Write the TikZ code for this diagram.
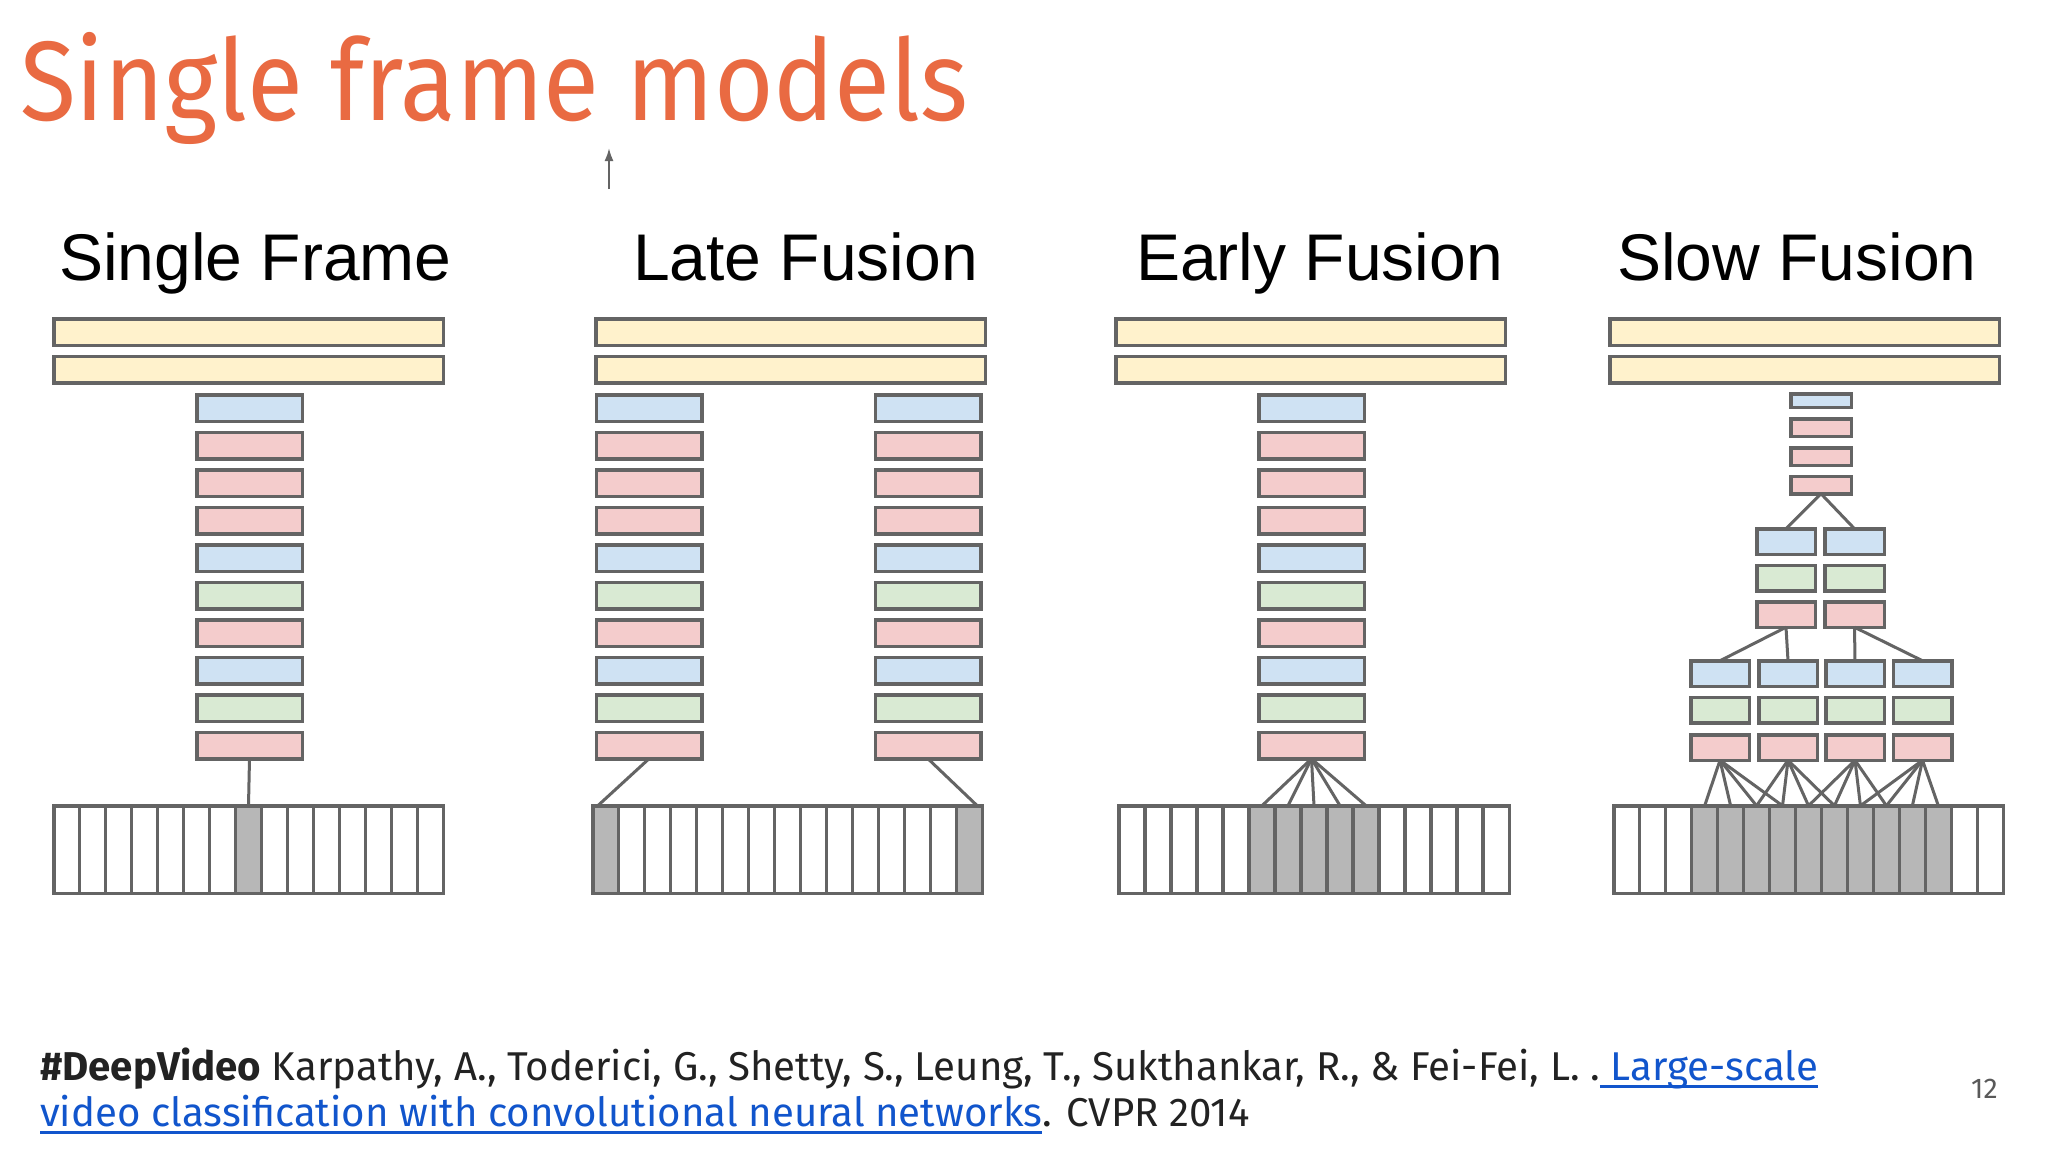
\documentclass[tikz,border=0pt]{standalone}
\usepackage{fontspec}
\setmainfont{Liberation Sans}
\newfontfamily\titlefont{Fira Sans}
\newfontfamily\footfont{Fira Sans}
\newfontfamily\headfont{Liberation Sans}
\usetikzlibrary{arrows.meta,calc}
\definecolor{edgec}{RGB}{100,100,100}
\definecolor{yel}{RGB}{255,242,204}
\definecolor{blu}{RGB}{207,226,243}
\definecolor{pnk}{RGB}{244,204,204}
\definecolor{grn}{RGB}{217,234,211}
\definecolor{gry}{RGB}{183,183,183}
\definecolor{titlec}{RGB}{233,106,66}
\definecolor{linkc}{RGB}{17,85,204}
\definecolor{txtc}{RGB}{34,34,34}
\definecolor{numc}{RGB}{89,89,89}
\newcommand\linkul[1]{\setbox0\hbox{#1}\rlap{\color{linkc}\rule[-0.2em]{\wd0}{0.07em}}{\color{linkc}\box0}}
\newcommand\cellrow[6]{%
  \foreach \i in {0,...,14}{%
    \pgfmathsetmacro\cw{(#3-#2-3.5)/15}%
    \pgfmathsetmacro\cx{#2+1.75+\cw*(\i+0.5)}%
    \pgfmathtruncatemacro\isg{or(and(\i>=#4,\i<=#5),\i==#6)}%
    \ifnum\isg=1 \def\cf{gry}\else\def\cf{white}\fi
    \node[cell, minimum width=\cw pt, fill=\cf] (#1\i) at (\cx,849.5) {};
  }}
\tikzset{
  lay/.style={draw=edgec, line width=3.5pt, inner sep=0pt, outer sep=0pt},
  cell/.style={draw=edgec, line width=3.5pt, inner sep=0pt, outer sep=0pt, minimum height=87.5},
  conn/.style={draw=edgec, line width=3pt},
  head/.style={anchor=base west, inner sep=0pt, font=\headfont\fontsize{66}{70}\selectfont, text=black},
  ybar/.style={lay, fill=yel, minimum width=389.5, minimum height=26.5},
  stk/.style={lay, minimum width=105.5, minimum height=26.5},
  foot/.style={anchor=base west, inner sep=0pt, text=txtc, font=\footfont\fontsize{40.2}{46}\selectfont}
}
\begin{document}
\begin{tikzpicture}[x=1pt,y=-1pt]
\useasboundingbox[fill=white] (0,0) rectangle (2048,1152);

% title
\node[anchor=base west, inner sep=0pt, text=titlec, font=\titlefont\fontsize{113}{113}\selectfont] (title) at (20,120) {\scalebox{0.905}[1]{Single frame models}};
\coordinate (arrS) at (609,189);
\coordinate (arrE) at (609,148);
\draw[conn, line width=2pt, -{Latex[length=13pt,width=9pt]}] (arrS) -- (arrE);

% headings
\node[head] (h1) at (59,280) {Single Frame};
\node[head] (h2) at (633,280) {Late Fusion};
\node[head] (h3) at (1136,280) {Early Fusion};
\node[head] (h4) at (1617,280) {Slow Fusion};

% yellow bars
\foreach \p/\cxx in {1/248.5, 2/790.5, 3/1310.5, 4/1804.5}{
  \node[ybar] (y\p a) at (\cxx,332) {};
  \node[ybar] (y\p b) at (\cxx,369.5) {};
}

% panel 1..3 stacks
\foreach \c [count=\i from 0] in {blu,pnk,pnk,pnk,blu,grn,pnk,blu,grn,pnk}{
  \node[stk, fill=\c] (s1\i) at (249.5,{408+37.5*\i}) {};
  \node[stk, fill=\c] (s2l\i) at (649,{408+37.5*\i}) {};
  \node[stk, fill=\c] (s2r\i) at (928,{408+37.5*\i}) {};
  \node[stk, fill=\c] (s3\i) at (1311.5,{408+37.5*\i}) {};
}

% frame strips
\cellrow{c1}{52}{445}{7}{7}{-1}
\cellrow{c2}{591}{984}{0}{0}{14}
\cellrow{c3}{1117}{1511}{5}{9}{-1}
\cellrow{c4}{1612}{2005}{3}{12}{-1}

% connectors panel 1
\draw[conn] (s19.south) -- (c17.north);
% panel 2
\coordinate (e2l) at ($(c20.north west)+(5,0)$);
\coordinate (e2r) at ($(c214.north east)+(-5,0)$);
\draw[conn] (s2l9.south) -- (e2l);
\draw[conn] (s2r9.south) -- (e2r);
% panel 3
\foreach \k in {5,...,9}{ \draw[conn] (s39.south) -- (c3\k.north); }

% panel 4: top stack
\node[lay, fill=blu, minimum width=60.5, minimum height=13.5] (t0) at (1821,400.5) {};
\node[lay, fill=pnk, minimum width=60.5, minimum height=17.5] (t1) at (1821,427.5) {};
\node[lay, fill=pnk, minimum width=60.5, minimum height=17.5] (t2) at (1821,456.5) {};
\node[lay, fill=pnk, minimum width=60.5, minimum height=17.5] (t3) at (1821,485) {};
% middle
\foreach \c/\yy [count=\r from 0] in {blu/541.5, grn/578, pnk/614.5}{
  \node[lay, fill=\c, minimum width=58.5, minimum height=25.5] (mL\r) at (1786,\yy) {};
  \node[lay, fill=\c, minimum width=59.5, minimum height=25.5] (mR\r) at (1854.5,\yy) {};
}
% lower
\foreach \c/\yy [count=\r from 0] in {blu/673.5, grn/710, pnk/747.5}{
  \foreach \xx [count=\q from 0] in {1720,1788,1855,1922.5}{
    \node[lay, fill=\c, minimum width=58.5, minimum height=25.5] (l\q\r) at (\xx,\yy) {};
  }
}
\draw[conn] (t3.south) -- (mL0.north);
\draw[conn] (t3.south) -- (mR0.north);
\draw[conn] (mL2.south) -- (l00.north);
\draw[conn] (mL2.south) -- (l10.north);
\draw[conn] (mR2.south) -- (l20.north);
\draw[conn] (mR2.south) -- (l30.north);
\foreach \q in {0,1,2,3}{
  \foreach \d in {0,1,2,3}{
    \pgfmathtruncatemacro\tc{2*\q+3+\d}
    \draw[conn] (l\q2.south) -- (c4\tc.north);
  }
}

% footer
\node[foot] (f1) at (40,1080)
  {\textbf{\#DeepVideo} Karpathy, A., Toderici, G., Shetty, S., Leung, T., Sukthankar, R., \& Fei-Fei, L. .\linkul{ Large-scale}};
\node[foot] (f2) at (40,1126)
  {\linkul{video classification with convolutional neural networks}. CVPR 2014};
\node[anchor=base west, inner sep=0pt, text=numc, font=\footfont\fontsize{28.5}{30}\selectfont] (pg) at (1971,1098) {12};
\end{tikzpicture}
\end{document}
